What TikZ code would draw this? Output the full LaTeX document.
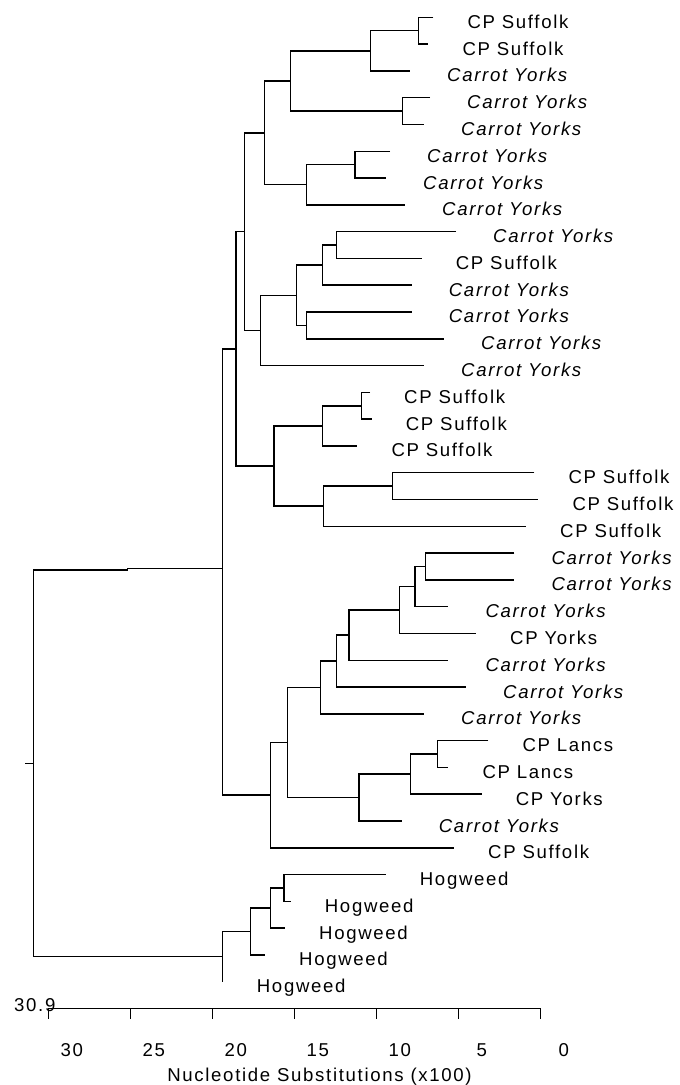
\documentclass[tikz,border=0pt]{standalone}
\usepackage{fontspec}
\setmainfont{Liberation Sans}
\newfontfamily\labfont[LetterSpace=9]{Liberation Sans}
\usetikzlibrary{calc}
\newcommand\labsize{\fontsize{18.6}{22}\selectfont}
\begin{document}
\begin{tikzpicture}[x=1pt,y=-1pt,
  br/.style={draw=black, line width=1.5pt},
  cp/.style={anchor=base west, inner sep=0pt, font=\labfont\labsize},
  car/.style={cp, font=\labfont\labsize\itshape, xshift=3pt},
  axlab/.style={anchor=base, inner sep=0pt, font=\labfont\labsize}]
\useasboundingbox (0,0) rectangle (680,1085);
% leaves (right ends)
\coordinate (l1) at (433.3,17.3);
\coordinate (l2) at (428.3,44.09);
\coordinate (l3) at (410,70.88);
\coordinate (l4) at (430,97.67);
\coordinate (l5) at (424,124.46);
\coordinate (l6) at (390,151.25);
\coordinate (l7) at (386,178.04);
\coordinate (l8) at (405,204.83);
\coordinate (l9) at (456,231.62);
\coordinate (l10) at (421.7,258.41);
\coordinate (l11) at (411.7,285.2);
\coordinate (l12) at (411.7,311.99);
\coordinate (l13) at (444,338.78);
\coordinate (l14) at (424,365.57);
\coordinate (l15) at (370,392.36);
\coordinate (l16) at (371.7,419.15);
\coordinate (l17) at (357.3,445.94);
\coordinate (l18) at (534.3,472.73);
\coordinate (l19) at (538.3,499.52);
\coordinate (l20) at (526,526.31);
\coordinate (l21) at (514.3,553.1);
\coordinate (l22) at (514.3,579.89);
\coordinate (l23) at (448.3,606.68);
\coordinate (l24) at (476,633.47);
\coordinate (l25) at (448.3,660.26);
\coordinate (l26) at (466,687.05);
\coordinate (l27) at (424,713.84);
\coordinate (l28) at (488.3,740.63);
\coordinate (l29) at (448.3,767.42);
\coordinate (l30) at (481.7,794.21);
\coordinate (l31) at (401.7,821.0);
\coordinate (l32) at (454,847.79);
\coordinate (l33) at (385.7,874.58);
\coordinate (l34) at (290.7,901.37);
\coordinate (l35) at (285,928.16);
\coordinate (l36) at (265,954.95);
\coordinate (l37) at (222.7,981.74);
% internal nodes
\coordinate (nA) at (418.3,30.7);
\coordinate (nB) at (370.7,50.79);
\coordinate (nC) at (402.7,111.07);
\coordinate (nD) at (290.7,80.93);
\coordinate (nE) at (355,164.65);
\coordinate (nF) at (306.7,184.74);
\coordinate (nG) at (264.3,132.84);
\coordinate (nJ) at (336.7,245.02);
\coordinate (nK) at (322.7,265.11);
\coordinate (nL) at (306.7,325.39);
\coordinate (nM) at (296.7,295.25);
\coordinate (nN) at (260.7,330.41);
\coordinate (nH) at (244.3,231.63);
\coordinate (nR) at (361.7,405.76);
\coordinate (nS) at (322.7,425.85);
\coordinate (nT) at (392.3,486.13);
\coordinate (nU) at (323.3,506.22);
\coordinate (nV) at (274,466.04);
\coordinate (nQ) at (236,348.84);
\coordinate (nW) at (425.7,566.5);
\coordinate (nX) at (415,586.59);
\coordinate (nY) at (399.3,610.03);
\coordinate (nZ) at (349,635.15);
\coordinate (nAA) at (336.7,661.1);
\coordinate (nAB) at (320.7,687.47);
\coordinate (nAC) at (437.3,754.03);
\coordinate (nAD) at (410.7,774.12);
\coordinate (nAE) at (359,797.56);
\coordinate (nAF) at (287.3,742.52);
\coordinate (nAG) at (270.7,795.16);
\coordinate (nAH) at (222.7,572);
\coordinate (nHA) at (284,887.98);
\coordinate (nHB) at (270.7,908.07);
\coordinate (nHC) at (250.7,931.51);
\coordinate (nHD) at (222.7,956.6);
\coordinate (root) at (33.3,763.3);
\coordinate (jogA) at (127.7,570);
\coordinate (jogB) at (127.7,568.3);
\coordinate (rtick) at (25,763.3);
% branches
\foreach \p/\a/\b in {nA/l1/l2, nB/nA/l3, nC/l4/l5, nD/nB/nC, nE/l6/l7, nF/nE/l8,
  nG/nD/nF, nJ/l9/l10, nK/nJ/l11, nL/l12/l13, nM/nK/nL, nN/nM/l14, nH/nG/nN,
  nR/l15/l16, nS/nR/l17, nT/l18/l19, nU/nT/l20, nV/nS/nU, nQ/nH/nV,
  nW/l21/l22, nX/nW/l23, nY/nX/l24, nZ/nY/l25, nAA/nZ/l26, nAB/nAA/l27,
  nAC/l28/l29, nAD/nAC/l30, nAE/nAD/l31, nAF/nAB/nAE, nAG/nAF/l32, nAH/nQ/nAG,
  nHA/l33/l34, nHB/nHA/l35, nHC/nHB/l36, nHD/nHC/l37}
  \draw[br] (\a) -| (\p) |- (\b);
\draw[br] (nHD) -| (root) |- (jogA) -- (jogB) -- (jogB -| nAH);
\draw[br] (root) -- (rtick);
% labels
\foreach \i/\s/\t in {1/cp/CP Suffolk, 2/cp/CP Suffolk, 3/car/Carrot Yorks,
  4/car/Carrot Yorks, 5/car/Carrot Yorks, 6/car/Carrot Yorks, 7/car/Carrot Yorks,
  8/car/Carrot Yorks, 9/car/Carrot Yorks, 10/cp/CP Suffolk, 11/car/Carrot Yorks,
  12/car/Carrot Yorks, 13/car/Carrot Yorks, 14/car/Carrot Yorks, 15/cp/CP Suffolk,
  16/cp/CP Suffolk, 17/cp/CP Suffolk, 18/cp/CP Suffolk, 19/cp/CP Suffolk,
  20/cp/CP Suffolk, 21/car/Carrot Yorks, 22/car/Carrot Yorks, 23/car/Carrot Yorks,
  24/cp/CP Yorks, 25/car/Carrot Yorks, 26/car/Carrot Yorks, 27/car/Carrot Yorks,
  28/cp/CP Lancs, 29/cp/CP Lancs, 30/cp/CP Yorks, 31/car/Carrot Yorks,
  32/cp/CP Suffolk, 33/cp/Hogweed, 34/cp/Hogweed, 35/cp/Hogweed, 36/cp/Hogweed,
  37/cp/Hogweed}
  \node[\s] (t\i) at ($(l\i)+(34,11)$) {\t};
% axis
\coordinate (ax0) at (48.3,1008.3);
\coordinate (ax6) at (540.3,1008.3);
\draw[br] (ax0) -- (ax6);
\foreach \i/\v in {0/30,1/25,2/20,3/15,4/10,5/5,6/0} {
  \coordinate (tk\i) at ($(ax0)+(82*\i,0)$);
  \draw[br] (tk\i) -- ++(0,11);
  \node[axlab] (tl\i) at ($(tk\i)+(23.4,47.7)$) {\v};
}
\node[cp] (maxlab) at (14,1011.7) {30.9};
\node[axlab] (title) at (319.5,1081.3) {Nucleotide Substitutions (x100)};
\end{tikzpicture}
\end{document}
